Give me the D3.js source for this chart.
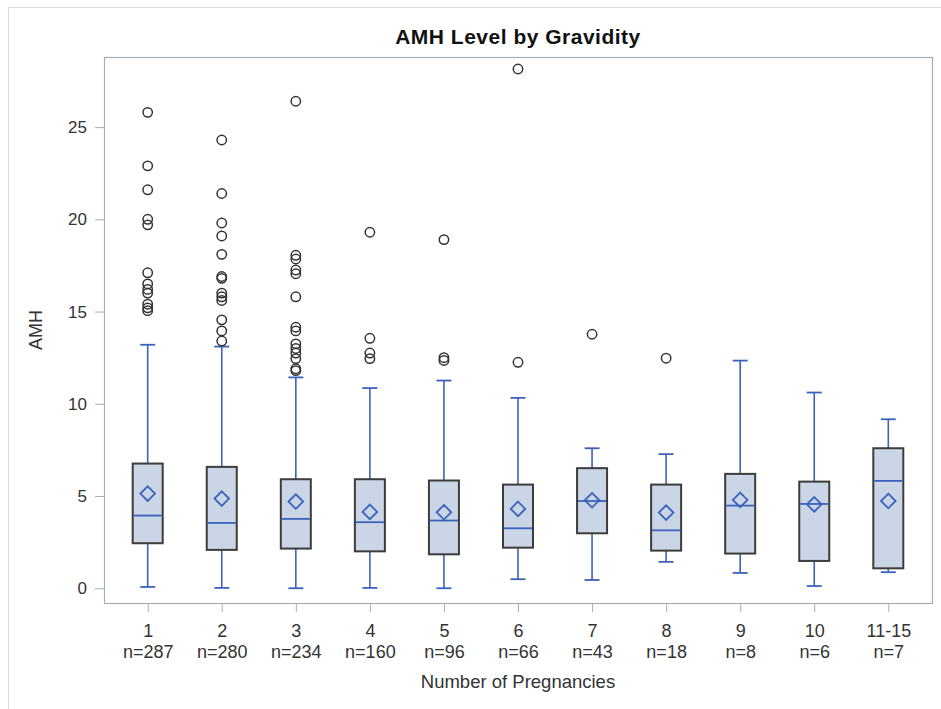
<!DOCTYPE html>
<html>
<head>
<meta charset="utf-8">
<script src="https://cdn.jsdelivr.net/npm/d3@7"></script>
<style>
  body { margin: 0; background: #fff; font-family: "Liberation Sans", Arial, sans-serif; }
  .tick text { fill: #333; }
</style>
</head>
<body>
<svg id="chart"></svg>
<script>
// values
const groups = ['1', '2', '3', '4', '5', '6', '7', '8', '9', '10', '11-15'];
const counts = [287, 280, 234, 160, 96, 66, 43, 18, 8, 6, 7];
const whiskerLow = [0.07, 0.02, 0.0, 0.02, 0.0, 0.49, 0.45, 1.43, 0.83, 0.12, 0.87];
const q1 = [2.44, 2.08, 2.15, 2.0, 1.84, 2.2, 2.98, 2.04, 1.88, 1.48, 1.08];
const median = [3.94, 3.54, 3.76, 3.58, 3.67, 3.25, 4.73, 3.14, 4.48, 4.57, 5.82];
const q3 = [6.76, 6.58, 5.91, 5.91, 5.84, 5.62, 6.51, 5.62, 6.2, 5.78, 7.59];
const whiskerHigh = [13.2, 13.1, 11.43, 10.85, 11.26, 10.32, 7.59, 7.27, 12.34, 10.61, 9.16];
const means = [5.13, 4.86, 4.7, 4.14, 4.12, 4.3, 4.77, 4.1, 4.79, 4.55, 4.73];
const outliers = [
    [25.8, 22.9, 21.6, 20.0, 19.7, 17.1, 16.5, 16.2, 16.0, 15.4, 15.2, 15.05],
    [24.3, 21.4, 19.8, 19.1, 18.1, 16.9, 16.8, 16.0, 15.8, 15.6, 14.55, 13.95, 13.4],
    [26.4, 18.05, 17.85, 17.25, 17.05, 15.8, 14.15, 13.95, 13.25, 13.0, 12.75, 12.45, 11.9, 11.8],
    [19.3, 13.55, 12.75, 12.45],
    [18.9, 12.5, 12.35],
    [28.15, 12.25],
    [13.77],
    [12.47],
    [],
    [],
    []
];
const yTicks = [0, 5, 10, 15, 20, 25];

const width = 941, height = 709;
const margin = { top: 57, right: 9, bottom: 106, left: 104 };
const blue = '#3b62bd';

let svg = d3.select('#chart').attr('width', width).attr('height', height);

// outer border
svg.append('rect')
    .attr('x', 8.5).attr('y', 7.5)
    .attr('width', width).attr('height', height)
    .attr('fill', 'none').attr('stroke', '#dcdcdc');

let x = d3.scalePoint()
    .domain(groups)
    .range([margin.left, width - margin.right])
    .padding(0.59);
let y = d3.scaleLinear()
    .domain([-0.8, 28.8])
    .range([height - margin.bottom, margin.top]);

svg.append('text')
    .attr('x', (margin.left + width - margin.right) / 2)
    .attr('y', 44)
    .attr('text-anchor', 'middle')
    .style('font-size', '21px')
    .style('font-weight', 'bold')
    .style('letter-spacing', '0.5px')
    .attr('fill', '#111')
    .text('AMH Level by Gravidity');

// frame
svg.append('rect')
    .attr('x', margin.left + 0.5).attr('y', margin.top + 0.5)
    .attr('width', width - margin.right - margin.left)
    .attr('height', height - margin.bottom - margin.top)
    .attr('fill', 'none').attr('stroke', '#a7adb3').attr('stroke-width', 1.2);

// axes
let yAxis = svg.append('g')
    .attr('transform', 'translate(' + margin.left + ',0)')
    .call(d3.axisLeft(y).tickValues(yTicks).tickSize(9).tickPadding(8));
yAxis.select('.domain').remove();
yAxis.selectAll('line').attr('stroke', '#a7adb3');
yAxis.selectAll('text').style('font-size', '17px');

let xAxis = svg.append('g')
    .attr('transform', 'translate(0,' + (height - margin.bottom) + ')')
    .call(d3.axisBottom(x).tickSize(9).tickFormat(''));
xAxis.select('.domain').remove();
xAxis.selectAll('line').attr('stroke', '#a7adb3');
xAxis.selectAll('.tick').append('text')
    .attr('y', 34)
    .attr('text-anchor', 'middle')
    .style('font-size', '18px')
    .attr('fill', '#333')
    .text(d => d);
xAxis.selectAll('.tick').append('text')
    .attr('y', 54.5)
    .attr('text-anchor', 'middle')
    .style('font-size', '18px')
    .attr('fill', '#333')
    .text((d, i) => 'n=' + counts[i]);

svg.append('text')
    .attr('x', (margin.left + width - margin.right) / 2)
    .attr('y', 688)
    .attr('text-anchor', 'middle')
    .style('font-size', '18.5px')
    .attr('fill', '#333')
    .text('Number of Pregnancies');

svg.append('text')
    .attr('transform', 'translate(42,330) rotate(-90)')
    .attr('text-anchor', 'middle')
    .style('font-size', '18px')
    .attr('fill', '#333')
    .text('AMH');

// boxes
let boxW = 30, capW = 15;
let box = svg.append('g').selectAll('g')
    .data(groups)
    .join('g')
    .attr('transform', d => 'translate(' + x(d) + ',0)');

box.append('line')
    .attr('x1', 0).attr('x2', 0)
    .attr('y1', (d, i) => y(whiskerLow[i]))
    .attr('y2', (d, i) => y(q1[i]))
    .attr('stroke', blue).attr('stroke-width', 1.6);
box.append('line')
    .attr('x1', 0).attr('x2', 0)
    .attr('y1', (d, i) => y(q3[i]))
    .attr('y2', (d, i) => y(whiskerHigh[i]))
    .attr('stroke', blue).attr('stroke-width', 1.6);
box.append('line')
    .attr('x1', -capW / 2).attr('x2', capW / 2)
    .attr('y1', (d, i) => y(whiskerLow[i]))
    .attr('y2', (d, i) => y(whiskerLow[i]))
    .attr('stroke', blue).attr('stroke-width', 1.8);
box.append('line')
    .attr('x1', -capW / 2).attr('x2', capW / 2)
    .attr('y1', (d, i) => y(whiskerHigh[i]))
    .attr('y2', (d, i) => y(whiskerHigh[i]))
    .attr('stroke', blue).attr('stroke-width', 1.8);
box.append('rect')
    .attr('x', -boxW / 2)
    .attr('y', (d, i) => y(q3[i]))
    .attr('width', boxW)
    .attr('height', (d, i) => y(q1[i]) - y(q3[i]))
    .attr('fill', '#cad5e6')
    .attr('stroke', '#3c3c3c').attr('stroke-width', 2);
box.append('line')
    .attr('x1', -boxW / 2 + 1).attr('x2', boxW / 2 - 1)
    .attr('y1', (d, i) => y(median[i]))
    .attr('y2', (d, i) => y(median[i]))
    .attr('stroke', blue).attr('stroke-width', 1.8);
box.append('path')
    .attr('d', (d, i) => {
        let cy = y(means[i]), r = 7.3;
        return 'M0,' + (cy - r) + 'L' + r + ',' + cy + 'L0,' + (cy + r) + 'L' + (-r) + ',' + cy + 'Z';
    })
    .attr('fill', 'none')
    .attr('stroke', blue).attr('stroke-width', 1.8);

box.each(function (d, i) {
    d3.select(this).selectAll('circle')
        .data(outliers[i])
        .join('circle')
        .attr('cx', 0)
        .attr('cy', v => y(v))
        .attr('r', 4.7)
        .attr('fill', 'none')
        .attr('stroke', '#333')
        .attr('stroke-width', 1.5);
});
</script>
</body>
</html>
